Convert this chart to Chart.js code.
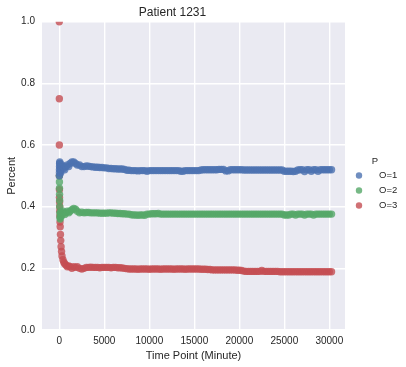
<!DOCTYPE html>
<html>
<head>
<meta charset="utf-8">
<script src="https://cdn.jsdelivr.net/npm/chart.js@4/dist/chart.umd.min.js"></script>
<style>
  html, body { margin: 0; padding: 0; background: #ffffff; }
  #wrap { width: 406px; height: 367px; }
</style>
</head>
<body>
<div id="wrap"><canvas id="chart" width="406" height="367"></canvas></div>
<script>
// data
const chartTitle = "Patient 1231";
const seriesLabels = ["O=1", "O=2", "O=3"];
const legendTitle = "P";
const xTicks = [0, 5000, 10000, 15000, 20000, 25000, 30000];
const yTicks = [0.0, 0.2, 0.4, 0.6, 0.8, 1.0];

// time points (minutes)
const timePoints = [
  0, 3, 6, 10, 15, 20, 30, 40, 50, 60, 80, 100, 130, 160, 200, 250, 300, 400, 500, 600,
  750, 900, 1050, 1200, 1400, 1600, 1800, 2000, 2250, 2500, 2750,
  3000, 3250, 3500, 3750, 4000, 4250, 4500, 4750, 5000, 5250,
  5500, 5750, 6000, 6250, 6500, 6750, 7000, 7250, 7500, 7750,
  8000, 8250, 8500, 8750, 9000, 9250, 9500, 9750, 10000, 10250,
  10500, 10750, 11000, 11250, 11500, 11750, 12000, 12250, 12500, 12750,
  13000, 13250, 13500, 13750, 14000, 14250, 14500, 14750, 15000, 15250,
  15500, 15750, 16000, 16250, 16500, 16750, 17000, 17250, 17500, 17750,
  18000, 18250, 18500, 18750, 19000, 19250, 19500, 19750, 20000, 20250,
  20500, 20750, 21000, 21250, 21500, 21750, 22000, 22250, 22500, 22750,
  23000, 23250, 23500, 23750, 24000, 24250, 24500, 24750, 25000, 25250,
  25500, 25750, 26000, 26250, 26500, 26750, 27000, 27250, 27500, 27750,
  28000, 28250, 28500, 28750, 29000, 29250, 29500, 29750, 30000, 30250
];

const o1Values = [
  null, null, null, 0.50, 0.51, 0.52, 0.53, 0.54, 0.545, 0.54, 0.53, 0.52, 0.515, 0.51, 0.52, 0.53, 0.535, 0.53, 0.525, 0.52,
  0.53, 0.535, 0.53, 0.54, 0.545, 0.545, 0.54, 0.535, 0.535, 0.53, 0.53,
  0.532, 0.531, 0.530, 0.529, 0.528, 0.528, 0.527, 0.527, 0.526, 0.526,
  0.524, 0.524, 0.523, 0.523, 0.522, 0.522, 0.522, 0.521, 0.518, 0.518,
  0.517, 0.517, 0.517, 0.516, 0.517, 0.517, 0.517, 0.515, 0.517, 0.517,
  0.517, 0.517, 0.517, 0.517, 0.517, 0.517, 0.517, 0.517, 0.517, 0.517,
  0.517, 0.517, 0.515, 0.515, 0.517, 0.517, 0.517, 0.517, 0.517, 0.517,
  0.517, 0.519, 0.520, 0.520, 0.520, 0.520, 0.520, 0.520, 0.520, 0.521,
  0.521, 0.521, 0.516, 0.516, 0.520, 0.520, 0.520, 0.520, 0.520, 0.520,
  0.519, 0.519, 0.519, 0.519, 0.519, 0.519, 0.519, 0.519, 0.519, 0.519,
  0.519, 0.519, 0.519, 0.519, 0.519, 0.519, 0.519, 0.519, 0.515, 0.515,
  0.515, 0.515, 0.514, 0.515, 0.519, 0.520, 0.520, 0.514, 0.520, 0.520,
  0.515, 0.520, 0.520, 0.515, 0.520, 0.520, 0.520, 0.520, 0.520, 0.520
];

const o2Values = [
  null, null, null, 0.50, 0.48, 0.46, 0.44, 0.42, 0.40, 0.38, 0.365, 0.36, 0.37, 0.38, 0.375, 0.37, 0.38, 0.385, 0.38, 0.375,
  0.38, 0.385, 0.38, 0.385, 0.39, 0.394, 0.392, 0.385, 0.38, 0.382, 0.38,
  0.381, 0.381, 0.380, 0.380, 0.380, 0.380, 0.379, 0.379, 0.379, 0.379,
  0.380, 0.380, 0.379, 0.379, 0.378, 0.378, 0.377, 0.377, 0.376, 0.376,
  0.374, 0.373, 0.373, 0.372, 0.373, 0.373, 0.372, 0.376, 0.376, 0.377,
  0.377, 0.377, 0.378, 0.376, 0.376, 0.376, 0.376, 0.376, 0.376, 0.376,
  0.376, 0.376, 0.376, 0.376, 0.376, 0.376, 0.376, 0.376, 0.376, 0.376,
  0.376, 0.376, 0.376, 0.376, 0.376, 0.376, 0.376, 0.376, 0.376, 0.376,
  0.376, 0.376, 0.376, 0.376, 0.376, 0.376, 0.376, 0.376, 0.376, 0.376,
  0.376, 0.376, 0.376, 0.376, 0.376, 0.376, 0.376, 0.376, 0.376, 0.376,
  0.376, 0.376, 0.376, 0.376, 0.376, 0.376, 0.376, 0.376, 0.373, 0.373,
  0.373, 0.376, 0.376, 0.373, 0.376, 0.376, 0.376, 0.373, 0.376, 0.376,
  0.376, 0.373, 0.376, 0.376, 0.376, 0.376, 0.376, 0.376, 0.376, 0.376
];

const o3Values = [
  1.00, 0.75, 0.60, 0.50, 0.455, 0.43, 0.415, 0.40, 0.385, 0.37, 0.35, 0.335, 0.31, 0.29, 0.27, 0.255, 0.24, 0.228, 0.22, 0.215,
  0.21, 0.205, 0.208, 0.205, 0.20, 0.205, 0.203, 0.205, 0.20, 0.198, 0.20,
  0.203, 0.203, 0.204, 0.203, 0.203, 0.203, 0.202, 0.203, 0.203, 0.203,
  0.203, 0.202, 0.203, 0.203, 0.202, 0.202, 0.201, 0.200, 0.199, 0.198,
  0.198, 0.198, 0.198, 0.197, 0.198, 0.198, 0.198, 0.198, 0.197, 0.198,
  0.198, 0.198, 0.198, 0.197, 0.198, 0.198, 0.198, 0.198, 0.198, 0.197,
  0.198, 0.198, 0.198, 0.198, 0.197, 0.198, 0.198, 0.198, 0.198, 0.198,
  0.198, 0.197, 0.197, 0.197, 0.196, 0.196, 0.195, 0.195, 0.195, 0.195,
  0.195, 0.195, 0.195, 0.195, 0.195, 0.195, 0.195, 0.194, 0.194, 0.193,
  0.191, 0.190, 0.190, 0.190, 0.190, 0.190, 0.190, 0.190, 0.193, 0.190,
  0.190, 0.190, 0.190, 0.190, 0.190, 0.190, 0.189, 0.189, 0.189, 0.189,
  0.189, 0.189, 0.189, 0.189, 0.189, 0.189, 0.189, 0.189, 0.189, 0.189,
  0.189, 0.189, 0.189, 0.189, 0.189, 0.189, 0.189, 0.189, 0.189, 0.189
];

const seriesColors = ["rgba(76,114,176,0.8)", "rgba(85,168,104,0.8)", "rgba(196,78,82,0.8)"];

const FONT = "'Liberation Sans', Arial, 'DejaVu Sans', sans-serif";
const TEXT = "#262626";

function toPoints(values) {
  const pts = [];
  values.forEach((v, i) => {
    if (v !== null) pts.push({ x: timePoints[i], y: v });
  });
  return pts;
}

// grey plot background like seaborn darkgrid
const plotBackground = {
  id: "plotBackground",
  beforeDraw(chart) {
    const { ctx, chartArea: a } = chart;
    ctx.save();
    ctx.fillStyle = "#EAEAF2";
    ctx.fillRect(a.left, a.top, a.right - a.left, a.bottom - a.top);
    ctx.restore();
  }
};

// legend placed outside on the right, FacetGrid style
const sideLegend = {
  id: "sideLegend",
  afterDraw(chart) {
    const ctx = chart.ctx;
    ctx.save();
    ctx.font = "9.5px " + FONT;
    ctx.fillStyle = TEXT;
    ctx.textBaseline = "middle";
    ctx.textAlign = "center";
    ctx.fillText(legendTitle, 375, 161);
    ctx.textAlign = "left";
    seriesLabels.forEach((label, i) => {
      const y = 175.5 + i * 15;
      ctx.beginPath();
      ctx.arc(359, y, 3.2, 0, Math.PI * 2);
      ctx.fillStyle = seriesColors[i];
      ctx.fill();
      ctx.fillStyle = TEXT;
      ctx.fillText(label, 379, y);
    });
    ctx.restore();
  }
};

new Chart(document.getElementById("chart").getContext("2d"), {
  type: "scatter",
  data: {
    datasets: [o1Values, o2Values, o3Values].map((vals, i) => ({
      label: seriesLabels[i],
      data: toPoints(vals),
      backgroundColor: seriesColors[i],
      borderWidth: 0,
      pointRadius: 3.7,
      pointHoverRadius: 3.7
    }))
  },
  options: {
    responsive: false,
    animation: false,
    layout: { padding: { left: 0, right: 61, top: 0, bottom: 0 } },
    plugins: {
      legend: { display: false },
      tooltip: { enabled: false },
      title: {
        display: true,
        text: chartTitle,
        color: TEXT,
        font: { family: FONT, size: 12, weight: "normal" },
        padding: { top: 5, bottom: 2.3 }
      }
    },
    scales: {
      x: {
        type: "linear",
        min: -1922,
        max: 31744,
        afterBuildTicks(scale) { scale.ticks = xTicks.map(v => ({ value: v })); },
        afterFit(scale) { scale.height = 37; },
        grid: { color: "#ffffff", lineWidth: 1.4, drawTicks: false },
        border: { display: false },
        ticks: {
          color: TEXT,
          padding: 5,
          maxRotation: 0,
          font: { family: FONT, size: 10 },
          callback: v => String(v)
        },
        title: {
          display: true,
          text: "Time Point (Minute)",
          color: TEXT,
          font: { family: FONT, size: 11 },
          padding: { top: 0, bottom: 4.5 }
        }
      },
      y: {
        type: "linear",
        min: 0,
        max: 1,
        afterBuildTicks(scale) { scale.ticks = yTicks.map(v => ({ value: v })); },
        afterFit(scale) { scale.width = 42; },
        grid: { color: "#ffffff", lineWidth: 1.4, drawTicks: false },
        border: { display: false },
        ticks: {
          color: TEXT,
          padding: 7,
          font: { family: FONT, size: 10 },
          callback: v => Number(v).toFixed(1)
        },
        title: {
          display: true,
          text: "Percent",
          color: TEXT,
          font: { family: FONT, size: 11 },
          padding: { top: 5, bottom: 0 }
        }
      }
    }
  },
  plugins: [plotBackground, sideLegend]
});
</script>
</body>
</html>
